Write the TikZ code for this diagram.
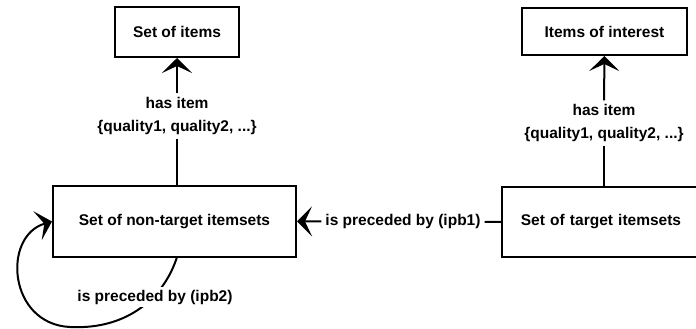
\documentclass[tikz,border=0pt]{standalone}
\usepackage{fontspec}
\setmainfont{Liberation Sans}
\usetikzlibrary{arrows.meta}
\begin{document}
\begin{tikzpicture}[x=1pt,y=-1pt,line width=2pt,
  txt/.style={font=\bfseries\fontsize{15.5}{23}\selectfont},
  box/.style={txt,draw,line width=2pt,inner sep=0pt},
  lbl/.style={txt,align=center,inner sep=3pt,fill=white},
  arr/.style={-{Stealth[length=15pt,width=30pt,inset=7pt]}}]
\clip (0,0) rectangle (696,329);
\useasboundingbox (0,0) rectangle (696,329);
% boxes
\node[box,minimum width=124pt,minimum height=50pt] (items) at (177,32) {Set of items};
\node[box,minimum width=243pt,minimum height=71pt] (nt) at (174.5,221.5) {Set of non-target itemsets};
\node[box,minimum width=200pt,minimum height=70pt,text width=200pt,align=center] (tg) at (602,222) {\hspace*{-2pt}Set of target itemsets};
\node[box,minimum width=165pt,minimum height=47pt] (ioi) at (604.5,31.5) {Items of interest};
% labels
\node[lbl] (hi1) at (177,116) {has item\\\{quality1, quality2, ...\}};
\node[lbl] (hi2) at (604,123) {has item\\\{quality1, quality2, ...\}};
\node[lbl] (ipb1) at (403,221) {is preceded by (ipb1)};
\coordinate (c1) at (177,257);
% connectors
\draw (nt.north -| hi1) -- (hi1);
\draw[arr] (hi1) -- (items);
\draw (tg.north -| hi2) -- (hi2);
\draw[arr] (hi2) -- (ioi);
\draw (tg.west) -- (ipb1);
\draw[arr] (ipb1) -- (nt.east);
\draw[arr] (c1) .. controls (165,295) and (130,330) .. (70,327)
   .. controls (8,324) and (2,236) .. (nt.west);
\node[lbl] (ipb2) at (155,297) {is preceded by (ipb2)};
\end{tikzpicture}
\end{document}
